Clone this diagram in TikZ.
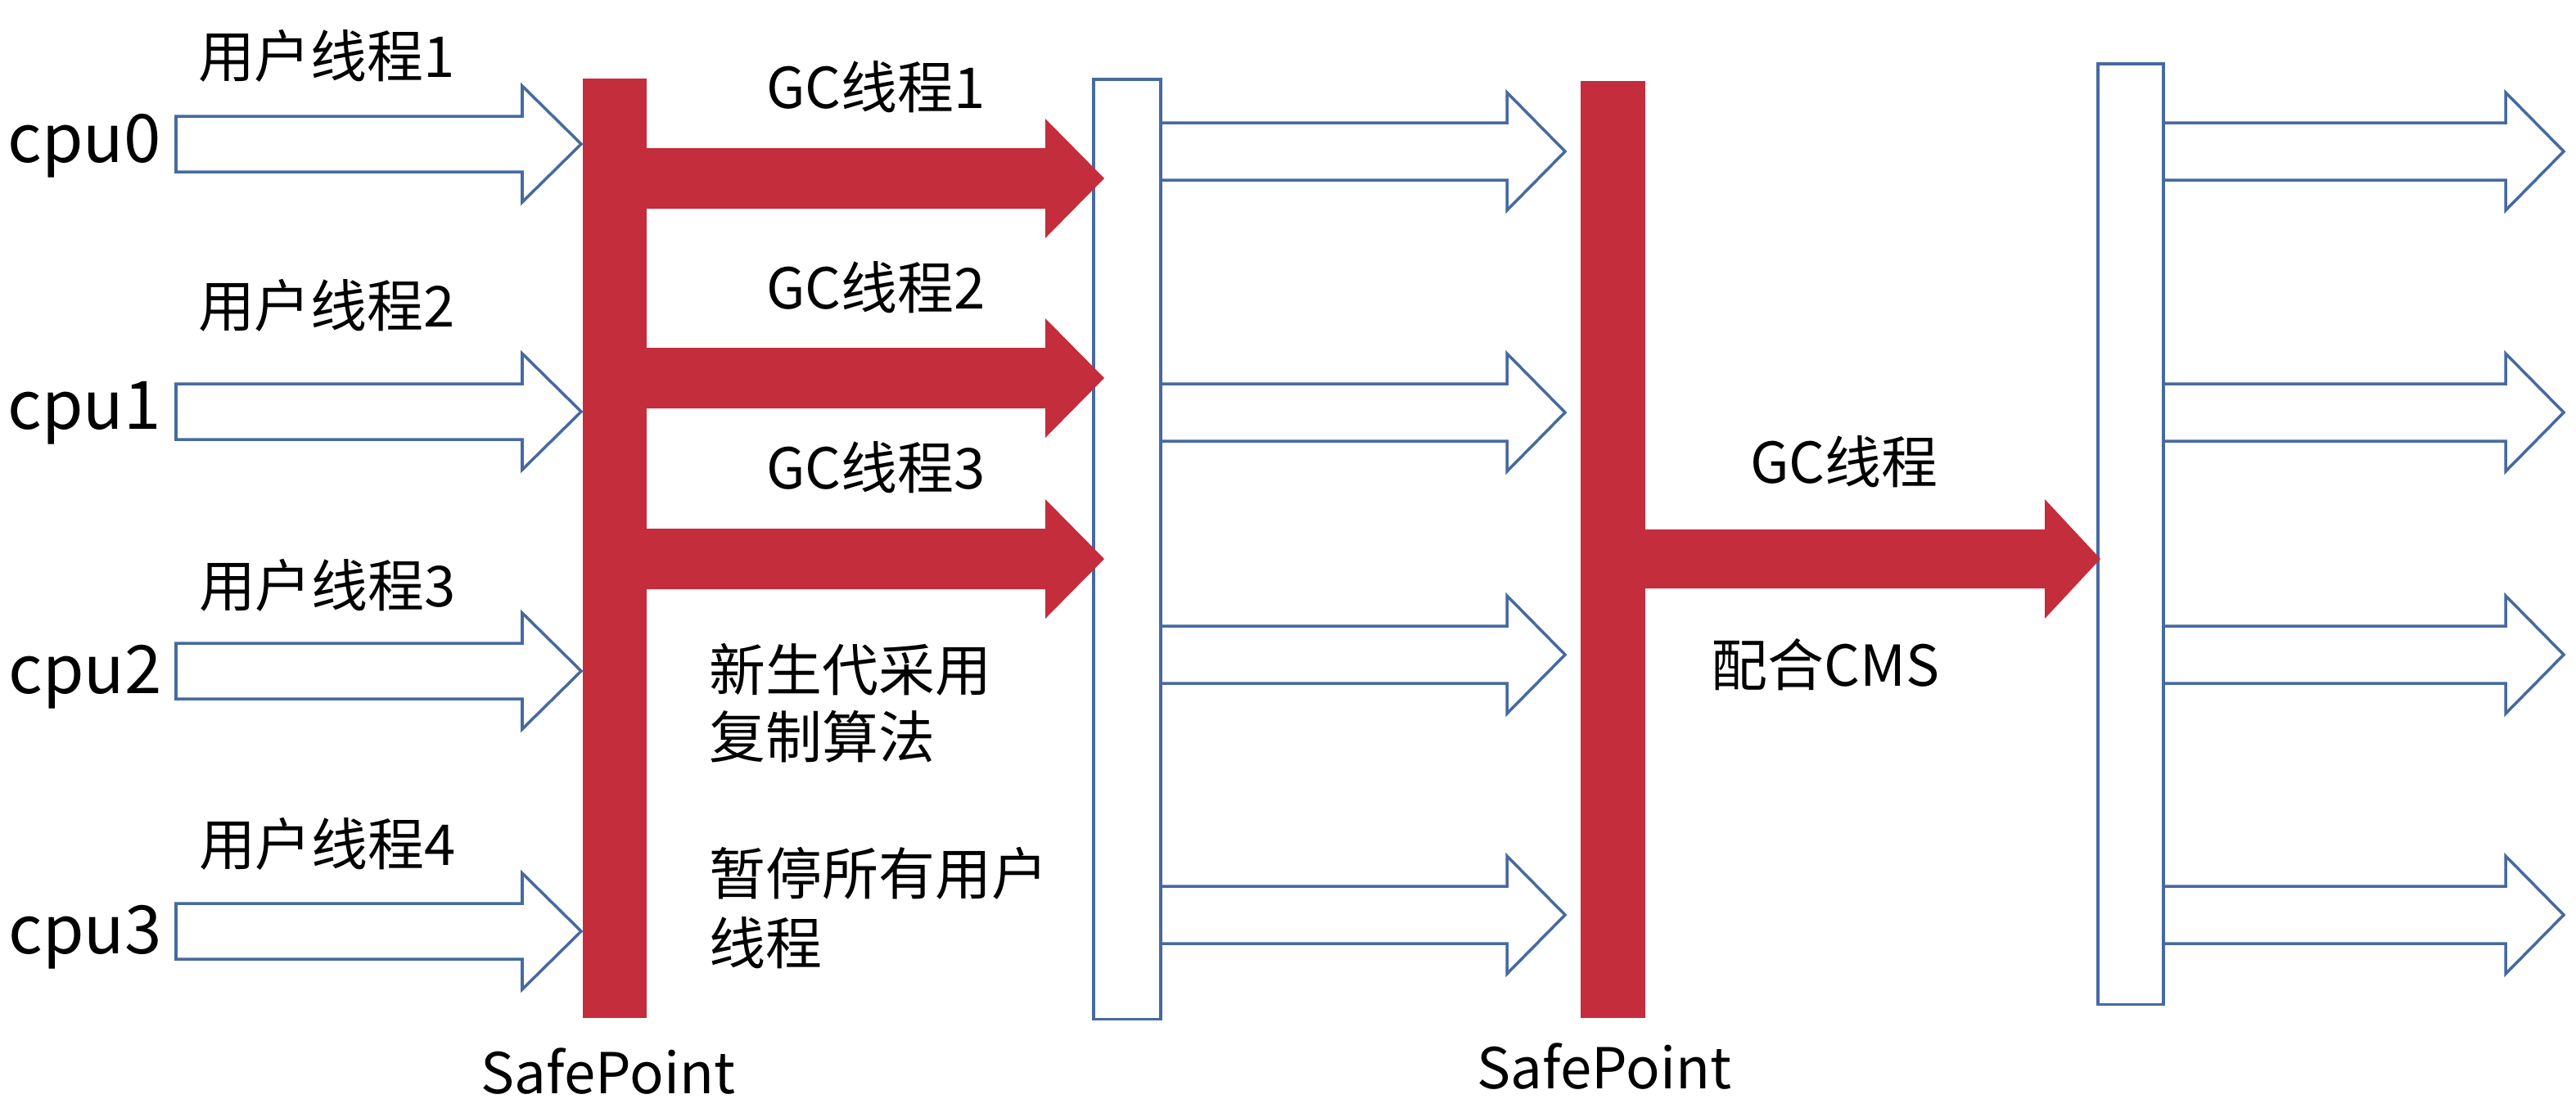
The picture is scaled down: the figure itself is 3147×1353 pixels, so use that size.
\documentclass[tikz,border=0pt]{standalone}
\usepackage{fontspec}
\setmainfont{Noto Sans CJK SC}
\usetikzlibrary{calc}
\definecolor{gcred}{RGB}{195,45,60}
\definecolor{lineblue}{RGB}{70,106,160}
\tikzset{
  lbl/.style={inner sep=0pt, font=\fontsize{19.6}{23}\selectfont},
  cpulbl/.style={inner sep=0pt, font=\fontsize{23.2}{27}\selectfont},
  redbar/.style={fill=gcred, draw=none, inner sep=0pt, outer sep=0pt, anchor=north west},
  bluebox/.style={draw=lineblue, fill=white, line width=1pt, inner sep=0pt, outer sep=0pt, anchor=north west},
  hollow/.style={draw=lineblue, fill=white, line width=1pt, line join=miter},
  solidred/.style={fill=gcred, draw=none},
}
% #1 style, #2 start, #3 tip, #4 shaft half width, #5 head half width, #6 head length
\newcommand\blockarrow[6]{%
  \draw[#1] ($(#2)+(0,#4)$) -- ($(#3)+(-#6,#4)$) -- ($(#3)+(-#6,#5)$) -- (#3)
    -- ($(#3)+(-#6,-#5)$) -- ($(#3)+(-#6,-#4)$) -- ($(#2)+(0,-#4)$) -- cycle;}
\begin{document}
\begin{tikzpicture}[x=0.01cm,y=-0.01cm]
\fill[white] (0,0) rectangle (3147,1353);
\useasboundingbox (0,0) rectangle (3147,1353);

% bars and boxes
\node[redbar, minimum width=0.78cm, minimum height=11.47cm] (sp1) at (712,96) {};
\node[bluebox, minimum width=0.82cm, minimum height=11.48cm] (box1) at (1336,97) {};
\node[redbar, minimum width=0.79cm, minimum height=11.44cm] (sp2) at (1931,99) {};
\node[bluebox, minimum width=0.80cm, minimum height=11.49cm] (box2) at (2563,78) {};

% row coordinates
\coordinate (c0) at (0,176); \coordinate (c1) at (0,503);
\coordinate (c2) at (0,820); \coordinate (c3) at (0,1138);
\coordinate (g1) at (0,218); \coordinate (g2) at (0,462); \coordinate (g3) at (0,683);
\coordinate (r0) at (0,185); \coordinate (r1) at (0,504);
\coordinate (r2) at (0,800); \coordinate (r3) at (0,1118);
\coordinate (rightend) at (3132,0);

% cpu arrows into first safepoint
\foreach \i in {0,1,2,3}{
  \coordinate (cs\i) at (215,0 |- c\i);
  \coordinate (ce\i) at ($(sp1.west |- c\i)+(-2,0)$);
  \blockarrow{hollow}{cs\i}{ce\i}{34}{71}{72}
}

% arrows from box1 to second safepoint
\foreach \i in {0,1,2,3}{
  \coordinate (as\i) at (box1.east |- r\i);
  \coordinate (ae\i) at ($(sp2.west |- r\i)+(-19,0)$);
  \blockarrow{hollow}{as\i}{ae\i}{35}{72}{71}
}

% arrows leaving box2
\foreach \i in {0,1,2,3}{
  \coordinate (bs\i) at (box2.east |- r\i);
  \coordinate (be\i) at (rightend |- r\i);
  \blockarrow{hollow}{bs\i}{be\i}{35}{72}{71}
}

% red GC arrows
\foreach \i in {1,2,3}{
  \coordinate (gs\i) at (sp1.east |- g\i);
  \coordinate (ge\i) at ($(box1.west |- g\i)+(13,0)$);
  \blockarrow{solidred}{gs\i}{ge\i}{37}{73}{72}
}
\coordinate (hs) at (sp2.east |- g3);
\coordinate (he) at ($(box2.west |- g3)+(3,0)$);
\blockarrow{solidred}{hs}{he}{36}{73}{68}

% labels
\node[cpulbl] (cpu0) at (103,178) {cpu0};
\node[cpulbl] (cpu1) at (103,505) {cpu1};
\node[cpulbl] (cpu2) at (104,827) {cpu2};
\node[cpulbl] (cpu3) at (104,1145) {cpu3};

\node[lbl] (u1) at (399,68) {用户线程1};
\node[lbl] (u2) at (399,373) {用户线程2};
\node[lbl] (u3) at (400,715) {用户线程3};
\node[lbl] (u4) at (400,1031) {用户线程4};

\node[lbl] (gc1) at (1070,106) {GC线程1};
\node[lbl] (gc2) at (1070,351) {GC线程2};
\node[lbl] (gc3) at (1070,571) {GC线程3};
\node[lbl] (gc) at (2253,564) {GC线程};
\node[lbl] (cms) at (2230,812) {配合CMS};

\node[lbl, anchor=west] (n1) at (866,818) {新生代采用};
\node[lbl, anchor=west] (n2) at (866,900) {复制算法};
\node[lbl, anchor=west] (n3) at (866,1067) {暂停所有用户};
\node[lbl, anchor=west] (n4) at (866,1152) {线程};

\node[lbl] (safe1) at (743,1309) {SafePoint};
\node[lbl] (safe2) at (1960,1303) {SafePoint};
\end{tikzpicture}
\end{document}
